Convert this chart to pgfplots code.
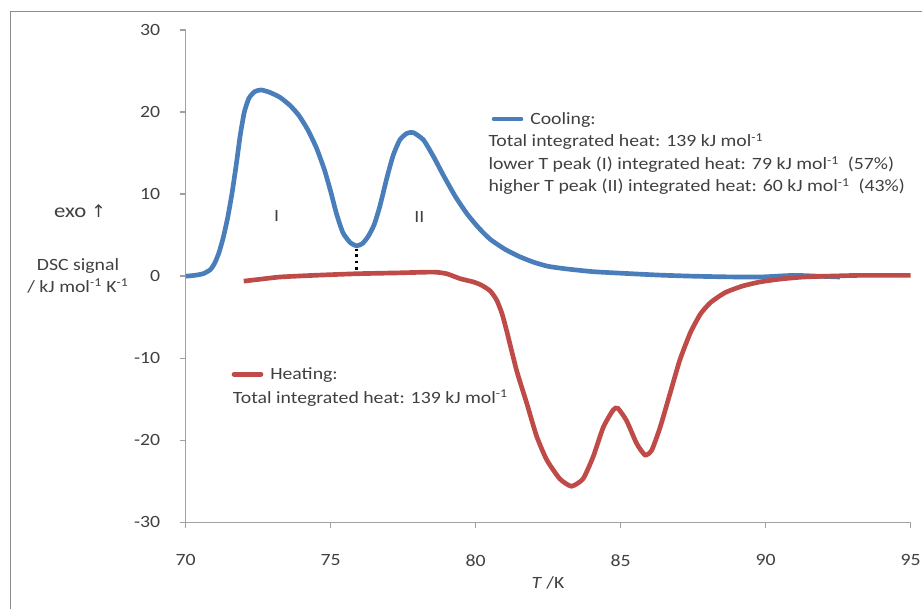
\documentclass[border=0pt]{standalone}
\usepackage{pgfplots}
\pgfplotsset{compat=1.18}
\usepackage{fontspec}
\setmainfont{Carlito}[FakeStretch=1.15]
\newfontfamily\dejavu{DejaVu Sans}
\definecolor{cblue}{HTML}{4A7EBB}
\definecolor{cred}{HTML}{BE4B48}
\definecolor{txt}{HTML}{404040}
\definecolor{axgray}{HTML}{A0A0A0}
\definecolor{frame}{HTML}{8C8C8C}
\newcommand\f{\fontsize{12.9}{15}\selectfont}
\begin{document}
\begin{tikzpicture}[x=0.75pt,y=0.75pt]
\useasboundingbox (0,0) rectangle (922,609);
\begin{axis}[
 at={(139.3pt,65pt)}, anchor=south west,
 width=543.75pt, height=369.2pt, scale only axis,
 xmin=70, xmax=95, ymin=-30, ymax=30,
 axis lines=left, axis line style={-, axgray, line width=1.1pt},
 xtick={70,75,...,95}, ytick={-30,-20,...,30},
 tick align=outside, major tick length=4.5pt,
 tick style={axgray, line width=1.1pt},
 every tick label/.append style={font=\f, text=txt},
 /pgf/number format/assume math mode=true,
 xticklabel style={anchor=center, yshift=-24pt},
 yticklabel style={anchor=east, inner sep=0pt, xshift=-14.5pt},
 clip=false,
]
\addplot[cblue, line width=3.5pt, smooth, tension=0.35] coordinates {
(70.0,0.0) (70.3,0.1) (70.6,0.3) (70.85,0.8) (71.0,1.6) (71.15,2.9) (71.3,4.8)
(71.45,7.2) (71.6,10.2) (71.75,13.8) (71.88,17.2) (72.02,20.0) (72.18,21.7) (72.38,22.5)
(72.6,22.7) (72.9,22.4) (73.25,21.8) (73.6,20.8) (73.9,19.6) (74.2,17.9) (74.5,15.7)
(74.78,13.0) (75.0,10.3) (75.2,7.6) (75.42,5.3) (75.67,4.1) (75.9,3.7)
(76.1,4.0) (76.3,4.9) (76.5,6.3) (76.7,8.6) (76.93,11.9) (77.15,14.7) (77.38,16.6) (77.62,17.4)
(77.85,17.5) (78.2,16.6) (78.54,14.6) (78.9,12.2) (79.3,9.7) (79.7,7.6) (80.1,5.9)
(80.5,4.5) (81.0,3.3) (81.5,2.4) (82.0,1.7) (82.5,1.2) (83.1,0.9) (84.05,0.55)
(85.2,0.33) (86.36,0.13) (87.5,0.0) (88.66,-0.08) (89.8,-0.1) (90.95,0.1)
(91.8,0.0) (92.56,-0.1)
};
\addplot[cred, line width=3.5pt, smooth, tension=0.35] coordinates {
(72.0,-0.6) (72.5,-0.4) (73.25,-0.1) (74.4,0.1) (75.9,0.3) (77.28,0.4)
(78.54,0.5) (79.0,0.3) (79.46,-0.3) (79.92,-0.7) (80.2,-1.1) (80.5,-1.8)
(80.72,-2.9) (80.9,-4.5) (81.07,-6.7) (81.41,-11.5) (81.76,-15.5) (82.1,-19.5)
(82.45,-22.4) (82.9,-24.7) (83.3,-25.6) (83.7,-24.7) (84.05,-22.0) (84.4,-18.4)
(84.74,-16.3) (84.9,-16.1) (85.2,-17.6) (85.55,-20.4) (85.84,-21.8) (86.07,-21.2)
(86.36,-18.4) (86.7,-14.3) (87.04,-10.2) (87.4,-6.9) (87.75,-4.6) (88.1,-3.2) (88.6,-2.0)
(89.2,-1.2) (89.8,-0.7) (90.5,-0.35) (91.3,-0.1) (92.1,0.0) (93.25,0.1) (95.0,0.1)
};
\addplot[black, line width=2.2pt, dash pattern=on 2.2pt off 2.4pt] coordinates {(75.9,0.8) (75.9,3.3)};
\end{axis}
\draw[frame, line width=1.1pt] (10.5,0) -- (10.5,{609-11.5}) -- (922,{609-11.5});
\begin{scope}[every node/.style={inner sep=0pt, font=\f, text=txt}]
% cooling legend
\draw[cblue, line width=3.5pt, line cap=round] (494,{609-119}) -- (521,{609-119});
\node[anchor=base west] at (530,{609-124.5}) {Cooling:};
\node[anchor=base west] at (488.3,{609-147}) {Total integrated heat: 139 kJ mol\textsuperscript{-1}};
\node[anchor=base west] at (488.3,{609-170}) {lower T peak (I) integrated heat: 79 kJ mol\textsuperscript{-1}\ \ (57\%)};
\node[anchor=base west] at (488.3,{609-192}) {higher T peak (II) integrated heat: 60 kJ mol\textsuperscript{-1}\ \ (43\%)};
% heating legend
\draw[cred, line width=3.5pt, line cap=round] (234,{609-374.3}) -- (261,{609-374.3});
\node[anchor=base west] at (270,{609-379.5}) {Heating:};
\node[anchor=base west] at (232.7,{609-403.5}) {Total integrated heat: 139 kJ mol\textsuperscript{-1}};
% peak labels
\node[anchor=base] at (276.7,{609-222}) {I};
\node[anchor=base] at (419.3,{609-223}) {II};
% y label
\node[anchor=base] at (80,{609-217.5}) {\fontsize{14.8}{17}\selectfont exo {\dejavu\fontsize{13}{15}\selectfont ↑}};
\node[anchor=base] at (78,{609-271}) {DSC signal};
\node[anchor=base] at (78,{609-292.5}) {/ kJ mol\textsuperscript{-1} K\textsuperscript{-1}};
% x label
\node[anchor=base] at (548,{609-589}) {\textit{T} /K};
\end{scope}
\end{tikzpicture}
\end{document}
